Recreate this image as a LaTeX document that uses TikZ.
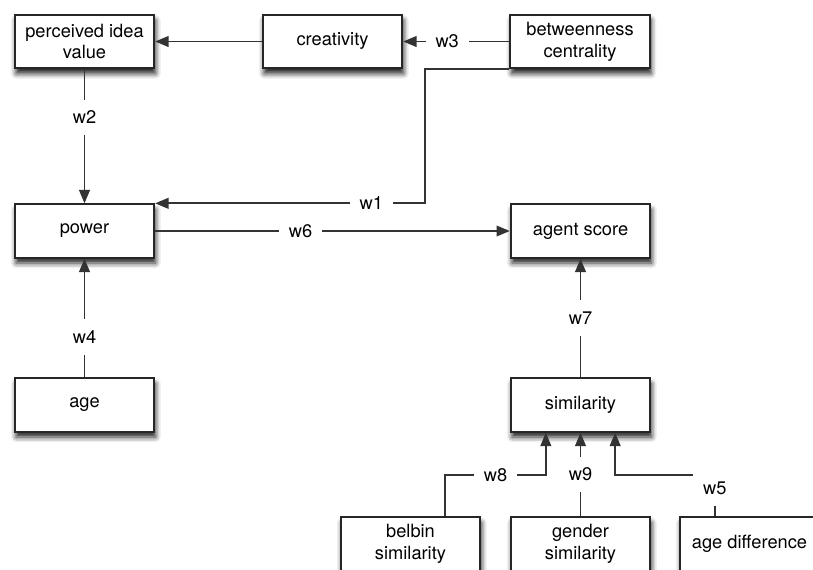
\documentclass[tikz,border=0pt]{standalone}
\usepackage{fontspec}
\setmainfont{TeX Gyre Heros}
\usetikzlibrary{arrows.meta,shadows.blur}
\begin{document}
\begin{tikzpicture}[x=0.75pt,y=-0.75pt,font=\fontsize{13.7}{16.3}\selectfont,
  box/.style={draw=black!85,line width=1.5pt,fill=white,minimum width=104.5pt,minimum height=40pt,align=center,
    blur shadow={shadow xshift=1pt,shadow yshift=-4pt,shadow blur radius=4pt,shadow opacity=90}},
  wire/.style={draw=black!80,line width=1.35pt},
  tip/.style={-{Triangle[length=10pt,width=8pt]}},
  wlabel/.style={fill=white,inner xsep=7.5pt,inner ysep=8.5pt}]
\useasboundingbox (0,0) rectangle (813,570);
\clip (0,0) rectangle (813,570);

\node[box] (piv) at (84.5,41.5) {perceived idea\\value};
\node[box] (creat) at (332.5,41.5) {creativity};
\node[box] (betw) at (580,41.5) {betweenness\\centrality};

\node[box] (power) at (84.5,231) {power};
\node[box] (agent) at (580.5,231) {agent score};

\node[box] (age) at (84.5,405) {age};
\node[box] (sim) at (580.5,405) {similarity};

\node[box] (belbin) at (410.5,544) {belbin\\similarity};
\node[box] (gender) at (580.5,544) {gender\\similarity};
\node[box] (agediff) at (749.5,544) {age difference};

\draw[wire,tip] (creat) -- (piv);
\draw[wire,tip] (betw) -- node[wlabel,pos=0.585] {w3} (creat);
\draw[wire,tip] (betw.south west) -- ++(-84,0) |- node[wlabel,pos=0.6] {w1} (power.north east);
\draw[wire,tip] (piv) -- node[wlabel,pos=0.36] {w2} (power);
\draw[wire,tip] (power) -- node[wlabel,pos=0.41] {w6} (agent);
\draw[wire,tip] (age) -- node[wlabel,pos=0.34] {w4} (power);
\draw[wire,tip] (sim) -- node[wlabel,pos=0.5] {w7} (agent);

\draw[wire,tip] ([xshift=26pt]belbin.north) -- ++(0,-41) -| node[wlabel,pos=0.25] {w8} ([xshift=-26pt]sim.south);
\draw[wire,tip] (gender) -- node[wlabel,pos=0.5] {w9} (sim);
\draw[wire,tip] ([xshift=-26pt]agediff.north) -- node[wlabel,pos=0.68] {w5} ++(0,-41) -| ([xshift=26pt]sim.south);
\end{tikzpicture}
\end{document}
